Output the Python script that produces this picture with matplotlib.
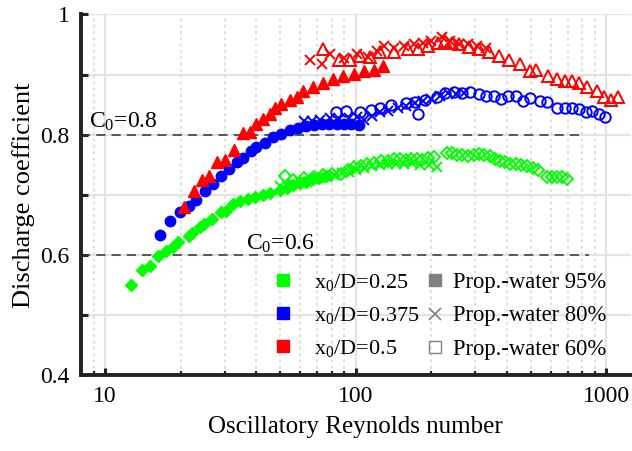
import numpy as np
import matplotlib
matplotlib.use('Agg')
import matplotlib.pyplot as plt
from matplotlib.lines import Line2D
from matplotlib.ticker import FixedLocator, FuncFormatter, LogLocator, NullFormatter

plt.rcParams['font.family'] = ['Liberation Serif', 'DejaVu Serif']
plt.rcParams['mathtext.fontset'] = 'custom'
plt.rcParams['mathtext.rm'] = 'Liberation Serif'
plt.rcParams['mathtext.it'] = 'Liberation Serif:italic'

# x0/D = 0.25 (green)
g95_re = [12.7, 14.0, 15.1, 16.3, 17.5, 18.7, 19.6, 21.5, 22.2, 23.9, 24.9, 26.7, 29.0, 30.4,
          32.3, 34.4, 37.0, 39.5, 42.5, 45.3, 49.7, 52.9, 56.0, 59.8, 63.5, 67.4, 71.5, 76.2]
g95_cd = [0.550, 0.575, 0.581, 0.598, 0.606, 0.614, 0.622, 0.632, 0.637, 0.646, 0.651, 0.659, 0.671, 0.673,
          0.684, 0.690, 0.693, 0.696, 0.700, 0.703, 0.708, 0.712, 0.716, 0.719, 0.722, 0.726, 0.728, 0.732]
g80_re = [50, 53, 56, 60, 64, 68, 72, 77, 82, 88, 94, 100, 108, 116, 125, 135, 145, 156, 168, 180, 195, 210]
g80_cd = [0.714, 0.716, 0.718, 0.721, 0.722, 0.726, 0.728, 0.730, 0.733, 0.736, 0.738, 0.741, 0.745, 0.748,
          0.750, 0.751, 0.752, 0.752, 0.753, 0.750, 0.749, 0.746]
g60_re = [52, 56, 62, 68, 74, 80, 87, 93, 98, 105, 111, 118, 126, 134, 142, 150, 158, 166, 175, 184, 194, 206,
          232, 242, 254, 266, 280, 296, 311, 326, 342, 358, 375, 392, 412, 437, 458, 480, 508, 535, 577, 605,
          634, 665, 697]
g60_cd = [0.731, 0.725, 0.728, 0.730, 0.733, 0.734, 0.735, 0.742, 0.746, 0.748, 0.751, 0.753, 0.756, 0.757,
          0.759, 0.760, 0.758, 0.760, 0.760, 0.758, 0.761, 0.763,
          0.769, 0.770, 0.767, 0.766, 0.765, 0.767, 0.768, 0.766, 0.765, 0.760, 0.757, 0.754, 0.752, 0.751,
          0.749, 0.748, 0.745, 0.742, 0.729, 0.730, 0.729, 0.730, 0.727]

# x0/D = 0.375 (blue)
b95_re = [16.6, 18.2, 19.8, 21.5, 23.0, 25.1, 26.9, 29.0, 31.3, 33.5, 35.6, 38.2, 40.0, 43.3, 46.7, 50.4,
          54.5, 58.8, 63.5, 68, 73, 78, 84, 90, 96, 103]
b95_cd = [0.633, 0.657, 0.671, 0.682, 0.691, 0.707, 0.718, 0.732, 0.743, 0.754, 0.762, 0.773, 0.779, 0.787,
          0.796, 0.801, 0.807, 0.811, 0.815, 0.816, 0.817, 0.818, 0.817, 0.818, 0.818, 0.816]
b80_re = [62, 67, 72, 79, 86, 94, 101, 108, 116, 125, 135, 147, 159, 172, 186, 200, 216, 234, 252, 270]
b80_cd = [0.823, 0.822, 0.825, 0.827, 0.826, 0.828, 0.829, 0.824, 0.831, 0.838, 0.840, 0.844, 0.848, 0.852,
          0.856, 0.860, 0.864, 0.869, 0.868, 0.869]
b60_re = [83, 91, 104, 115, 125, 138, 159, 172, 177, 188, 210, 227, 246, 265, 286, 309, 331, 356, 379, 403,
          436, 464, 497, 542, 577, 634, 685, 728, 775, 825, 878, 935, 985]
b60_cd = [0.837, 0.839, 0.837, 0.841, 0.844, 0.849, 0.852, 0.855, 0.834, 0.858, 0.862, 0.869, 0.871, 0.869,
          0.871, 0.868, 0.865, 0.864, 0.860, 0.865, 0.865, 0.856, 0.861, 0.856, 0.854, 0.845, 0.845, 0.844,
          0.843, 0.838, 0.839, 0.834, 0.829]

# x0/D = 0.5 (red)
r95_re = [20.7, 22.7, 24.4, 26.0, 27.9, 30.2, 32.8, 35.6, 37.7, 40.0, 42.5, 45.3, 47.4, 50.4, 54.5, 58,
          61.6, 67.6, 74, 81, 89, 98, 108, 118, 128]
r95_cd = [0.680, 0.706, 0.725, 0.732, 0.754, 0.758, 0.774, 0.802, 0.804, 0.818, 0.826, 0.834, 0.845, 0.851,
          0.857, 0.863, 0.872, 0.880, 0.886, 0.892, 0.897, 0.901, 0.906, 0.908, 0.914]
r80_re = [65.6, 73, 79, 90, 101, 112, 122, 130, 142, 155, 170, 185, 200, 220, 238, 258, 280, 305, 330]
r80_cd = [0.924, 0.917, 0.934, 0.928, 0.935, 0.930, 0.940, 0.948, 0.944, 0.947, 0.950, 0.952, 0.955, 0.962,
          0.955, 0.951, 0.950, 0.948, 0.945]
r60_re = [74, 85.5, 95, 104, 114, 125, 142, 161, 177, 194, 213, 227, 242, 257, 282, 309, 340, 373, 410, 450,
          494, 525, 586, 634, 685, 728, 775, 838, 920, 980, 1045, 1115]
r60_cd = [0.942, 0.925, 0.925, 0.931, 0.929, 0.937, 0.937, 0.942, 0.942, 0.948, 0.953, 0.956, 0.953, 0.951,
          0.946, 0.942, 0.937, 0.931, 0.925, 0.917, 0.906, 0.907, 0.897, 0.892, 0.890, 0.889, 0.886, 0.880,
          0.872, 0.863, 0.858, 0.862]

ratio_labels = ['x$_0$/D=0.25', 'x$_0$/D=0.375', 'x$_0$/D=0.5']
fill_labels = ['Prop.-water 95%', 'Prop.-water 80%', 'Prop.-water 60%']

GREEN, BLUE, RED = '#00ff00', '#0000ff', '#ff0000'

fig = plt.figure(figsize=(6.32, 4.51), dpi=100)
ax = fig.add_axes([0.128, 0.168, 0.87, 0.80])

ax.set_xscale('log')
ax.set_xlim(8, 1250)
ax.set_ylim(0.4, 1.0)

# grid
ax.set_axisbelow(True)
ax.grid(True, which='major', axis='both', color='#e3e3e3', lw=1.6, ls='-')
ax.xaxis.set_minor_locator(LogLocator(base=10, subs=np.arange(2, 10)))
ax.xaxis.set_minor_formatter(NullFormatter())
ax.grid(True, which='minor', axis='x', color='#dadada', lw=1.3, ls=(0, (1.5, 2)))

# reference lines
ax.plot([8, 820], [0.8, 0.8], color='#333333', lw=1.1, ls=(0, (6, 4)))
ax.plot([8, 850], [0.6, 0.6], color='#333333', lw=1.1, ls=(0, (6, 4)))
ax.text(8.6, 0.812, 'C$_0$=0.8', fontsize=17)
ax.text(36.5, 0.608, 'C$_0$=0.6', fontsize=17)

ms = 6.5
# green
ax.plot(g60_re, g60_cd, 'D', ms=ms, mfc='none', mec=GREEN, mew=1.4, ls='none')
ax.plot(g80_re, g80_cd, 'x', ms=ms, color=GREEN, mew=1.4, ls='none')
ax.plot(g95_re, g95_cd, 'D', ms=ms, color=GREEN, ls='none')
# blue
ax.plot(b60_re, b60_cd, 'o', ms=ms + 1, mfc='none', mec=BLUE, mew=1.4, ls='none')
ax.plot(b80_re, b80_cd, 'x', ms=ms, color=BLUE, mew=1.4, ls='none')
ax.plot(b95_re, b95_cd, 'o', ms=ms + 1, color=BLUE, ls='none')
# red
ax.plot(r60_re, r60_cd, '^', ms=ms + 1.5, mfc='none', mec=RED, mew=1.4, ls='none')
ax.plot(r80_re, r80_cd, 'x', ms=ms, color=RED, mew=1.4, ls='none')
ax.plot(r95_re, r95_cd, '^', ms=ms + 1.5, color=RED, ls='none')

# axes styling
for s in ['top', 'right']:
    ax.spines[s].set_visible(False)
for s in ['left', 'bottom']:
    ax.spines[s].set_linewidth(2.8)
    ax.spines[s].set_color('#222222')

ax.yaxis.set_major_locator(FixedLocator(np.arange(0.4, 1.01, 0.1)))
ax.yaxis.set_major_formatter(FuncFormatter(
    lambda v, p: {0.4: '0.4', 0.6: '0.6', 0.8: '0.8', 1.0: '1'}.get(round(v, 1), '')))
ax.xaxis.set_major_formatter(FuncFormatter(lambda v, p: '%d' % v))
ax.tick_params(which='major', direction='in', length=5, width=2.2, labelsize=17, color='#222222', pad=8)
ax.tick_params(which='minor', direction='in', length=3, width=1.6, color='#222222')

ax.set_xlabel('Oscillatory Reynolds number', fontsize=18, labelpad=6)
ax.set_ylabel('Discharge coefficient', fontsize=19, labelpad=4)

# legends: colour = x0/D, marker = propylene-water fraction
h_ratio = [Line2D([], [], marker='s', ls='none', color=c, ms=8) for c in (GREEN, BLUE, RED)]
h_fill = [Line2D([], [], marker='s', ls='none', color='#808080', ms=8),
          Line2D([], [], marker='x', ls='none', color='#808080', ms=8, mew=1.2),
          Line2D([], [], marker='s', ls='none', mfc='none', mec='#808080', ms=8, mew=1.0)]
leg1 = ax.legend(h_ratio, ratio_labels, frameon=False, fontsize=16, loc='upper left',
                 bbox_to_anchor=(0.347, 0.286), borderaxespad=0, borderpad=0,
                 handlelength=1.0, handletextpad=0.9, labelspacing=0.53)
ax.add_artist(leg1)
ax.legend(h_fill, fill_labels, frameon=False, fontsize=16.3, loc='upper left',
          bbox_to_anchor=(0.624, 0.286), borderaxespad=0, borderpad=0,
          handlelength=1.0, handletextpad=0.27, labelspacing=0.55)

fig.savefig('out.png', dpi=100)
